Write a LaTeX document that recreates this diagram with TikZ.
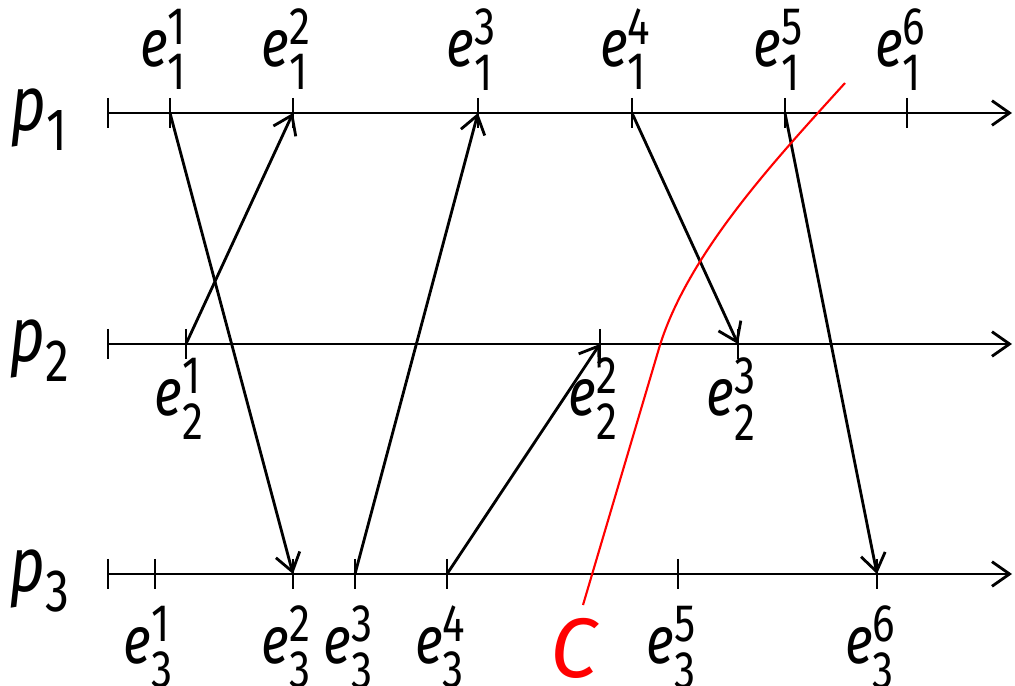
\documentclass[tikz,border=0pt]{standalone}
\usepackage{amsmath}
\usepackage{fontspec}
\setmainfont{Fira Sans}[FakeStretch=0.8]
\newfontfamily\cutfont{Fira Sans}
\usetikzlibrary{arrows.meta}
\DeclareMathSizes{19}{19}{15}{12}
\DeclareMathSizes{22}{22}{17}{13}

\tikzset{
  msg/.style={-{Straight Barb[length=5pt,width=7pt]}},
  evtick/.style={thick},
}
\newcommand{\ev}[2]{$\textit{e}^{\text{#2}}_{\text{#1}}$}

\begin{document}
\begin{tikzpicture}[x=0.01cm, y=-0.01cm, thick, font=\fontsize{19}{22}\selectfont]
  \useasboundingbox (0,0) rectangle (1015,686);

  % 进程轴
  \foreach \i/\y in {1/113, 2/344, 3/574} {
    \coordinate (s\i) at (108,\y);
    \coordinate (t\i) at (1012,\y);
    \draw[msg] (s\i) -- (t\i);
    \draw[evtick] (s\i) ++(0,-15) -- ++(0,30);
    \node[anchor=base, font=\fontsize{22}{26}\selectfont] (p\i) at (40,\y+18) {$\textit{p}_{\text{\i}}$};
  }

  % p1 上的事件
  \foreach \j/\x in {1/170, 2/293, 3/478, 4/632, 5/785, 6/907} {
    \coordinate (e1\j) at (\x,113);
    \draw[evtick] (e1\j) ++(0,-15) -- ++(0,30);
    \node[anchor=base] (l1\j) at (\x-6,67) {\ev{1}{\j}};
  }

  % p2 上的事件
  \foreach \j/\x in {1/186, 2/600, 3/738} {
    \coordinate (e2\j) at (\x,344);
    \draw[evtick] (e2\j) ++(0,-15) -- ++(0,30);
    \node[anchor=base] (l2\j) at (\x-6,416) {\ev{2}{\j}};
  }

  % p3 上的事件
  \foreach \j/\x in {1/155, 2/293, 3/355, 4/447, 5/678, 6/877} {
    \coordinate (e3\j) at (\x,574);
    \draw[evtick] (e3\j) ++(0,-15) -- ++(0,30);
    \node[anchor=base] (l3\j) at (\x-6,664) {\ev{3}{\j}};
  }

  % 消息
  \draw[msg] (e11) -- (e32);
  \draw[msg] (e21) -- (e12);
  \draw[msg] (e33) -- (e13);
  \draw[msg] (e34) -- (e22);
  \draw[msg] (e14) -- (e23);
  \draw[msg] (e15) -- (e36);

  % 割线 C
  \coordinate (ctop) at (845,83);
  \coordinate (cmid) at (660,345);
  \coordinate (cbot) at (583,605);
  \draw[red, semithick] (ctop) .. controls (780,155) and (690,250) .. (cmid)
    -- (cbot);
  \node[anchor=base, red, font=\cutfont\fontsize{24}{28}\selectfont] (cut) at (575,678) {\textit{C}};
\end{tikzpicture}
\end{document}
